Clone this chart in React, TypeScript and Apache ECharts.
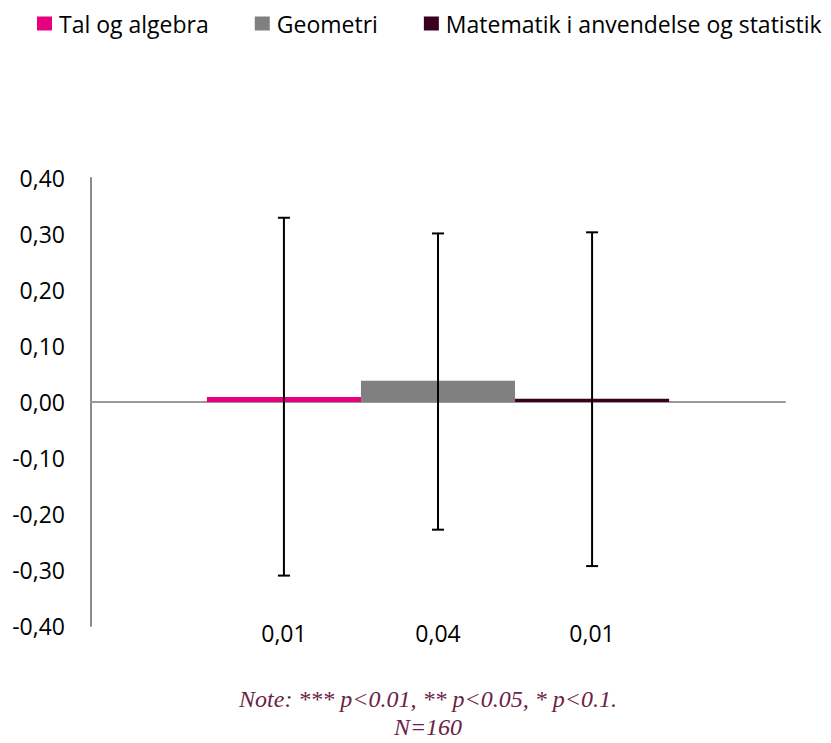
import React, { useEffect, useRef } from "react";
import * as echarts from "echarts";

const seriesNames = ["Tal og algebra", "Geometri", "Matematik i anvendelse og statistik"];
const seriesColors = ["#e6007e", "#808080", "#3a0020"];
const barValues = [0.009, 0.038, 0.006];
const errLow = [-0.31, -0.228, -0.293];
const errHigh = [0.329, 0.301, 0.303];
const categories = [""];
const yTicks = { min: -0.4, max: 0.4, interval: 0.1 };
const noteLines = ["Note: *** p<0.01, ** p<0.05, * p<0.1.", "N=160"];

const BAR_RATIO = 0.222;

const fmt = (v: number) => v.toFixed(2).replace(".", ",");

export default function App() {
  const ref = useRef<HTMLDivElement>(null);
  useEffect(() => {
    document.body.style.margin = "0";
    if (!ref.current) return;
    const chart = echarts.init(ref.current, null, { renderer: "svg" });
    const barSeries = seriesNames.map((name, i) => ({
      name,
      type: "bar",
      data: [barValues[i]],
      barWidth: BAR_RATIO * 100 + "%",
      barGap: "0%",
      itemStyle: { color: seriesColors[i] },
      z: 2,
    }));
    const errData = seriesNames.map((_, i) => [0, errLow[i], errHigh[i], i, barValues[i]]);
    const option: any = {
      animation: false,
      backgroundColor: "#fff",
      legend: {
        data: seriesNames,
        left: 37,
        top: 12,
        width: 800,
        padding: 0,
        itemWidth: 15,
        itemHeight: 14,
        itemGap: 46,
        icon: "rect",
        textStyle: {
          fontFamily: "Open Sans",
          fontSize: 23,
          color: "#000",
          padding: [0, 0, 0, 2],
        },
      },
      grid: { left: 91, right: 46, top: 178, bottom: 117, containLabel: false },
      xAxis: {
        type: "category",
        data: categories,
        axisLine: { show: true, onZero: true, lineStyle: { color: "#999", width: 2 } },
        axisTick: { show: false },
        axisLabel: { show: false },
        splitLine: { show: false },
      },
      yAxis: {
        type: "value",
        min: yTicks.min,
        max: yTicks.max,
        interval: yTicks.interval,
        axisLine: { show: true, lineStyle: { color: "#8c8c8c", width: 2 } },
        axisTick: { show: false },
        splitLine: { show: false },
        axisLabel: {
          margin: 26,
          fontFamily: "Open Sans",
          fontSize: 23,
          color: "#000",
          formatter: (v: number) => fmt(v),
        },
      },
      series: [
        ...barSeries,
        {
          name: "err",
          type: "custom",
          clip: false,
          z: 5,
          data: errData,
          renderItem: (params: any, api: any) => {
            const idx = api.value(3);
            const band = api.size([1, 0])[0];
            const barW = band * BAR_RATIO;
            const off = (idx - 1) * barW;
            const lo = api.coord([api.value(0), api.value(1)]);
            const hi = api.coord([api.value(0), api.value(2)]);
            const bottom = api.coord([api.value(0), yTicks.min]);
            const x = lo[0] + off;
            const cap = 6;
            const ls = { stroke: "#000", lineWidth: 2 };
            return {
              type: "group",
              children: [
                { type: "line", shape: { x1: x, y1: lo[1], x2: x, y2: hi[1] }, style: ls },
                { type: "line", shape: { x1: x - cap, y1: lo[1], x2: x + cap, y2: lo[1] }, style: ls },
                { type: "line", shape: { x1: x - cap, y1: hi[1], x2: x + cap, y2: hi[1] }, style: ls },
                {
                  type: "text",
                  x: x,
                  y: bottom[1] + 7,
                  style: {
                    text: fmt(api.value(4)),
                    fontFamily: "Open Sans",
                    fontSize: 23,
                    fill: "#000",
                    align: "center",
                    verticalAlign: "middle",
                  },
                },
              ],
            };
          },
        },
      ],
      graphic: [
        {
          type: "text",
          x: 428,
          y: 685,
          style: {
            text: noteLines.join("\n"),
            fontFamily: "Liberation Serif",
            fontStyle: "italic",
            fontSize: 24,
            lineHeight: 28,
            fill: "#6d1f47",
            align: "center",
            verticalAlign: "top",
          },
        },
      ],
    };
    chart.setOption(option);
    return () => chart.dispose();
  }, []);
  return <div ref={ref} style={{ width: 831, height: 743 }} />;
}
